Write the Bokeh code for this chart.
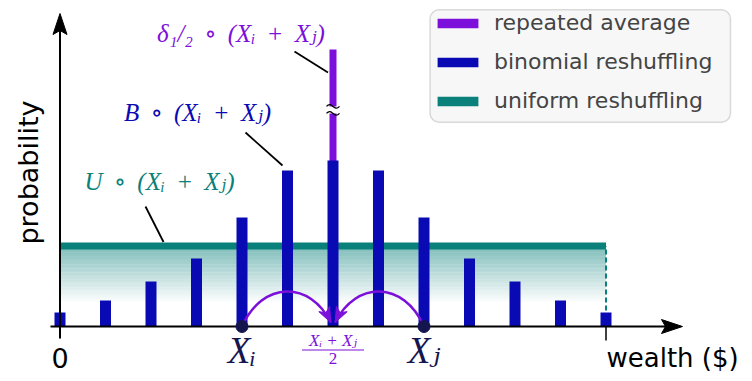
import numpy as np
from bokeh.plotting import figure
from bokeh.models import Range1d, Label, Legend, LegendItem, BoxAnnotation
from bokeh.embed import file_html
from bokeh.resources import INLINE

# ---------------- data ----------------
wealth_levels = list(range(13))
binomial_prob = [0.014, 0.026, 0.045, 0.068, 0.109, 0.156, 0.166,
                 0.156, 0.109, 0.068, 0.045, 0.026, 0.014]
uniform_prob = 0.0805
average_prob = 0.277          # drawn with an axis break
xi_pos = 4
xj_pos = 8
legend_labels = ["repeated average", "binomial reshuffling", "uniform reshuffling"]
x_tick_labels = ["0"]
x_axis_label = "wealth ($)"
y_axis_label = "probability"
S = "\u00a0\u2009"
annot_labels = [f"δ₁/₂{S}∘{S}(Xᵢ{S}+{S}Xⱼ)", f"B{S}∘{S}(Xᵢ{S}+{S}Xⱼ)", f"U{S}∘{S}(Xᵢ{S}+{S}Xⱼ)"]
point_labels = ["Xᵢ", "Xⱼ"]
mid_labels = ["Xᵢ + Xⱼ", "2"]

# ---------------- style ----------------
PURPLE = "#7c10da"
BLUE = "#0a0ab4"
TEAL = "#0a807a"
NAVY = "#15154f"
SANS = "DejaVu Sans"
SERIF = "Liberation Serif, DejaVu Serif"

W, H = 744, 373
PAGE = 0
X0 = 59.5      # px of wealth 0
UX = 45.5      # px per wealth unit
Y0 = 326.0     # px of probability 0
UY = 1000.0    # px per probability unit


def px2x(px):
    return (px - X0) / UX


def px2y(py):
    return (Y0 - py) / UY


def dx(px):
    return px / UX


def dy(px):
    return px / UY


x_range = Range1d(px2x(PAGE), px2x(PAGE + W))
y_range = Range1d(px2y(PAGE + H), px2y(PAGE))

p = figure(width=W, height=H, x_range=x_range, y_range=y_range,
           output_backend="svg", toolbar_location=None, min_border=0,
           x_axis_location=None, y_axis_location=None)
p.grid.visible = False
p.outline_line_color = None
p.background_fill_color = "white"
p.border_fill_color = "white"

x_lo, x_hi = wealth_levels[0], wealth_levels[-1]
mid = (xi_pos + xj_pos) / 2


def blend(a):
    t = (0x0a, 0x80, 0x7a)
    c = [round(255 * (1 - a) + v * a) for v in t]
    return "#%02x%02x%02x" % tuple(c)


# uniform band with gradient
n = 60
lev = np.linspace(0, uniform_prob, n + 1)
ym = (lev[:-1] + lev[1:]) / 2
fade = uniform_prob * 0.29
tt = np.clip((ym - fade) / (uniform_prob - fade), 0, 1)
cols = [blend(0.53 * t) for t in tt]
p.quad(left=x_lo, right=x_hi, bottom=lev[:-1], top=lev[1:] + uniform_prob / n * 0.3,
       fill_color=cols, line_color=None)
p.segment(x0=[x_lo, x_hi], y0=[0, 0], x1=[x_lo, x_hi], y1=[uniform_prob, uniform_prob],
          line_color=TEAL, line_width=2, line_dash="5 3")
band_line = p.quad(left=[x_lo], right=[x_hi], bottom=[uniform_prob - dy(3.5)],
                   top=[uniform_prob + dy(3.5)], fill_color=TEAL, line_color=None)

# spike (repeated average)
spike = p.vbar(x=[mid], top=[average_prob], width=dx(7), fill_color=PURPLE, line_color=None)
# binomial bars
bars = p.vbar(x=wealth_levels, top=binomial_prob, width=dx(11), fill_color=BLUE, line_color=None)

# axis break on spike
yb = average_prob * 0.782
p.quad(left=mid - dx(5), right=mid + dx(5), bottom=yb - dy(3.5), top=yb + dy(3.5),
       fill_color="white", line_color=None)
for off in (-3.5, 3.5):
    yy = yb + dy(off)
    p.bezier(x0=[mid - dx(6.5)], y0=[yy], x1=[mid + dx(6.5)], y1=[yy],
             cx0=[mid - dx(1)], cy0=[yy + dy(6)], cx1=[mid + dx(1)], cy1=[yy - dy(6)],
             line_color="black", line_width=1.3)


def head(tip, d, L, Wd, notch):
    tx, ty = tip[0] * UX, tip[1] * UY
    d = np.array(d, float)
    d = d / np.hypot(*d)
    nrm = np.array([-d[1], d[0]])
    pts = [np.array([tx, ty]),
           np.array([tx, ty]) - L * d + Wd / 2 * nrm,
           np.array([tx, ty]) - (L - notch) * d,
           np.array([tx, ty]) - L * d - Wd / 2 * nrm]
    return [q[0] / UX for q in pts], [q[1] / UY for q in pts]


# axes
y_tip = px2y(13)
x_tip = px2x(682)
p.segment(x0=[x_lo], y0=[-dy(12)], x1=[x_lo], y1=[y_tip - dy(12)], line_color="black", line_width=2)
p.segment(x0=[px2x(50)], y0=[0], x1=[x_tip - dx(12)], y1=[0], line_color="black", line_width=2)
p.segment(x0=[x_hi], y0=[0], x1=[x_hi], y1=[-dy(14)], line_color="black", line_width=1.5)
hx, hy = head((x_lo, y_tip), (0, 1), 21, 14, 4)
p.patch(hx, hy, fill_color="black", line_color="black", line_width=1)
hx, hy = head((x_tip, 0), (1, 0), 21, 14, 4)
p.patch(hx, hy, fill_color="black", line_color="black", line_width=1)

# arcs from X_i and X_j to the average
ctrl_h = 0.046
for s, sign in ((xi_pos, -1), (xj_pos, 1)):
    end = (mid + sign * dx(2.2), dy(4))
    c0 = (s - sign * 0.45, ctrl_h)
    c1 = (mid + sign * 0.5, ctrl_h)
    p.bezier(x0=[s], y0=[0], x1=[end[0]], y1=[end[1]], cx0=[c0[0]], cy0=[c0[1]],
             cx1=[c1[0]], cy1=[c1[1]], line_color=PURPLE, line_width=2.5)
    d = ((end[0] - c1[0]) * UX, (end[1] - c1[1]) * UY)
    hx, hy = head(end, d, 15, 12, 4)
    p.patch(hx, hy, fill_color=PURPLE, line_color=PURPLE, line_width=1)

# points
p.scatter(x=[xi_pos, xj_pos], y=[0, 0], size=12, fill_color=NAVY, line_color=NAVY)

# leader lines
p.segment(x0=[px2x(294), px2x(245), px2x(145)],
          y0=[px2y(51), px2y(132), px2y(206)],
          x1=[mid - dx(5), 5 - dx(5), px2x(163)],
          y1=[px2y(72), binomial_prob[5] + dy(5), uniform_prob + dy(4)],
          line_color="black", line_width=1.8)


def lab(x, y, text, size, color, font, style="normal", align="center", angle=0):
    p.add_layout(Label(x=x, y=y, text=text, text_font_size=size, text_color=color,
                       text_font=font, text_font_style=style, text_align=align,
                       text_baseline="middle", angle=angle))


lab(px2x(240.5), px2y(33), annot_labels[0], "25px", PURPLE, SERIF, "italic")
lab(px2x(197), px2y(112), annot_labels[1], "25px", BLUE, SERIF, "italic")
lab(px2x(159), px2y(181), annot_labels[2], "25px", TEAL, SERIF, "italic")
lab(xi_pos, px2y(350), point_labels[0], "37px", NAVY, SERIF, "italic")
lab(xj_pos, px2y(350), point_labels[1], "37px", NAVY, SERIF, "italic")
lab(mid, px2y(340), mid_labels[0], "17px", PURPLE, SERIF, "italic")
lab(mid, px2y(358), mid_labels[1], "17px", PURPLE, SERIF)
p.segment(x0=[mid - dx(31)], y0=[px2y(349.5)], x1=[mid + dx(31)], y1=[px2y(349.5)],
          line_color=PURPLE, line_width=1.2)
lab(x_lo, px2y(357), x_tick_labels[0], "27px", "black", SANS)
lab(px2x(606), px2y(357), x_axis_label, "26px", "black", SANS, align="left")
lab(px2x(28), px2y(172), y_axis_label, "27px", "black", SANS, angle=np.pi / 2)

# legend
box = BoxAnnotation(left=px2x(429.5), right=px2x(730), top=px2y(9.3), bottom=px2y(121.7),
                    fill_color="#f7f7f7", fill_alpha=1, line_color="#8a8a8a",
                    line_width=1.5, border_radius=9)
p.add_layout(box)
leg_h = 3 * 30 + 2 * 9
legend = Legend(items=[LegendItem(label=legend_labels[0], renderers=[spike]),
                       LegendItem(label=legend_labels[1], renderers=[bars]),
                       LegendItem(label=legend_labels[2], renderers=[band_line])],
                location=(432, H - 7.5 - leg_h), padding=0, margin=0, spacing=9,
                glyph_width=51, glyph_height=12, label_height=30, label_standoff=11,
                label_text_font=SANS, label_text_font_size="22px",
                background_fill_alpha=0, border_line_color=None)
p.add_layout(legend, "center")

open("out.html", "w").write(file_html(p, INLINE))
